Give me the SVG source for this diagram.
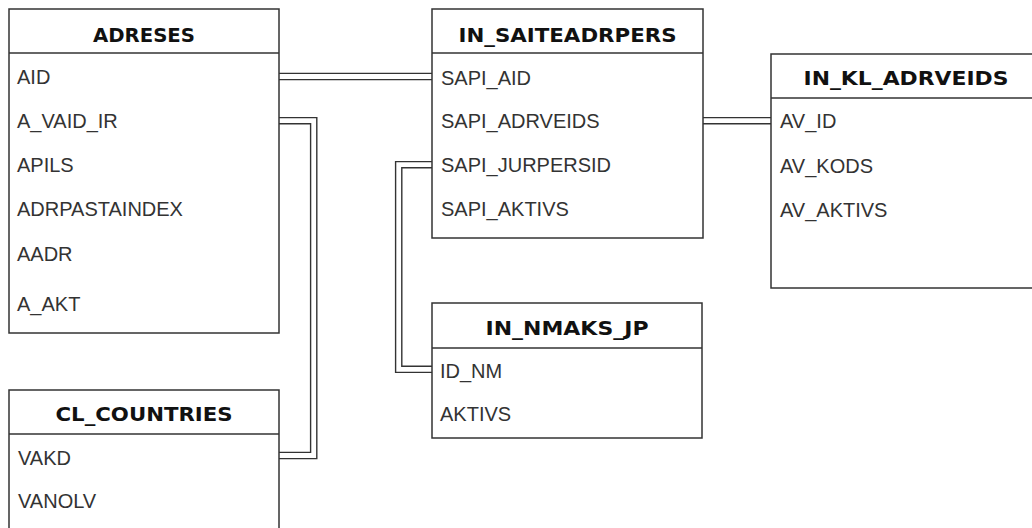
<svg xmlns="http://www.w3.org/2000/svg" width="1032" height="528" viewBox="0 0 1032 528">
<defs>
<style>
.box{fill:#fff;stroke:#333;stroke-width:1.5}
.sep{stroke:#333;stroke-width:1.5}
.hdr{font-family:"DejaVu Sans",Verdana,sans-serif;font-weight:bold;font-size:19.5px;fill:#111;text-anchor:middle}
.fld{font-family:"Liberation Sans",Arial,sans-serif;font-size:20px;fill:#333}
.lo{fill:none;stroke:#333;stroke-width:7.6;stroke-linejoin:miter}
.li{fill:none;stroke:#fff;stroke-width:4.8;stroke-linejoin:miter}
</style>
</defs>
<rect width="1032" height="528" fill="#fff"/>
<g id="connectors">
<path class="lo" d="M279,76.5 H432"/>
<path class="li" d="M279,76.5 H432"/>
<path class="lo" d="M279,120.7 H313.7 V455.5 H279"/>
<path class="li" d="M279,120.7 H313.7 V455.5 H279"/>
<path class="lo" d="M432,164.7 H398.7 V369.3 H432"/>
<path class="li" d="M432,164.7 H398.7 V369.3 H432"/>
<path class="lo" d="M703,120.7 H771"/>
<path class="li" d="M703,120.7 H771"/>
</g>
<g id="ADRESES">
<rect class="box" x="9" y="9" width="270" height="324"/>
<line class="sep" x1="9" y1="53" x2="279" y2="53"/>
<text class="hdr" x="144" y="41.7" textLength="102" lengthAdjust="spacingAndGlyphs">ADRESES</text>
<text class="fld" x="17" y="83.5">AID</text>
<text class="fld" x="17" y="128">A_VAID_IR</text>
<text class="fld" x="17" y="172">APILS</text>
<text class="fld" x="17" y="216">ADRPASTAINDEX</text>
<text class="fld" x="17" y="261">AADR</text>
<text class="fld" x="17" y="310.5">A_AKT</text>
</g>
<g id="IN_SAITEADRPERS">
<rect class="box" x="432" y="9" width="271" height="229"/>
<line class="sep" x1="432" y1="53" x2="703" y2="53"/>
<text class="hdr" x="567.5" y="41.7" textLength="218" lengthAdjust="spacingAndGlyphs">IN_SAITEADRPERS</text>
<text class="fld" x="441" y="84.5">SAPI_AID</text>
<text class="fld" x="441" y="128">SAPI_ADRVEIDS</text>
<text class="fld" x="441" y="172">SAPI_JURPERSID</text>
<text class="fld" x="441" y="216">SAPI_AKTIVS</text>
</g>
<g id="IN_KL_ADRVEIDS">
<rect class="box" x="771" y="54" width="270" height="234"/>
<line class="sep" x1="771" y1="98" x2="1041" y2="98"/>
<text class="hdr" x="906" y="85" textLength="205" lengthAdjust="spacingAndGlyphs">IN_KL_ADRVEIDS</text>
<text class="fld" x="780" y="128.3">AV_ID</text>
<text class="fld" x="780" y="172.5">AV_KODS</text>
<text class="fld" x="780" y="216.5">AV_AKTIVS</text>
</g>
<g id="IN_NMAKS_JP">
<rect class="box" x="432" y="303" width="270" height="135"/>
<line class="sep" x1="432" y1="348" x2="702" y2="348"/>
<text class="hdr" x="567" y="335" textLength="163" lengthAdjust="spacingAndGlyphs">IN_NMAKS_JP</text>
<text class="fld" x="440" y="377.5">ID_NM</text>
<text class="fld" x="440" y="421">AKTIVS</text>
</g>
<g id="CL_COUNTRIES">
<rect class="box" x="9" y="390" width="270" height="150"/>
<line class="sep" x1="9" y1="434" x2="279" y2="434"/>
<text class="hdr" x="144" y="421" textLength="177" lengthAdjust="spacingAndGlyphs">CL_COUNTRIES</text>
<text class="fld" x="18" y="465">VAKD</text>
<text class="fld" x="18" y="507.5">VANOLV</text>
</g>
</svg>
